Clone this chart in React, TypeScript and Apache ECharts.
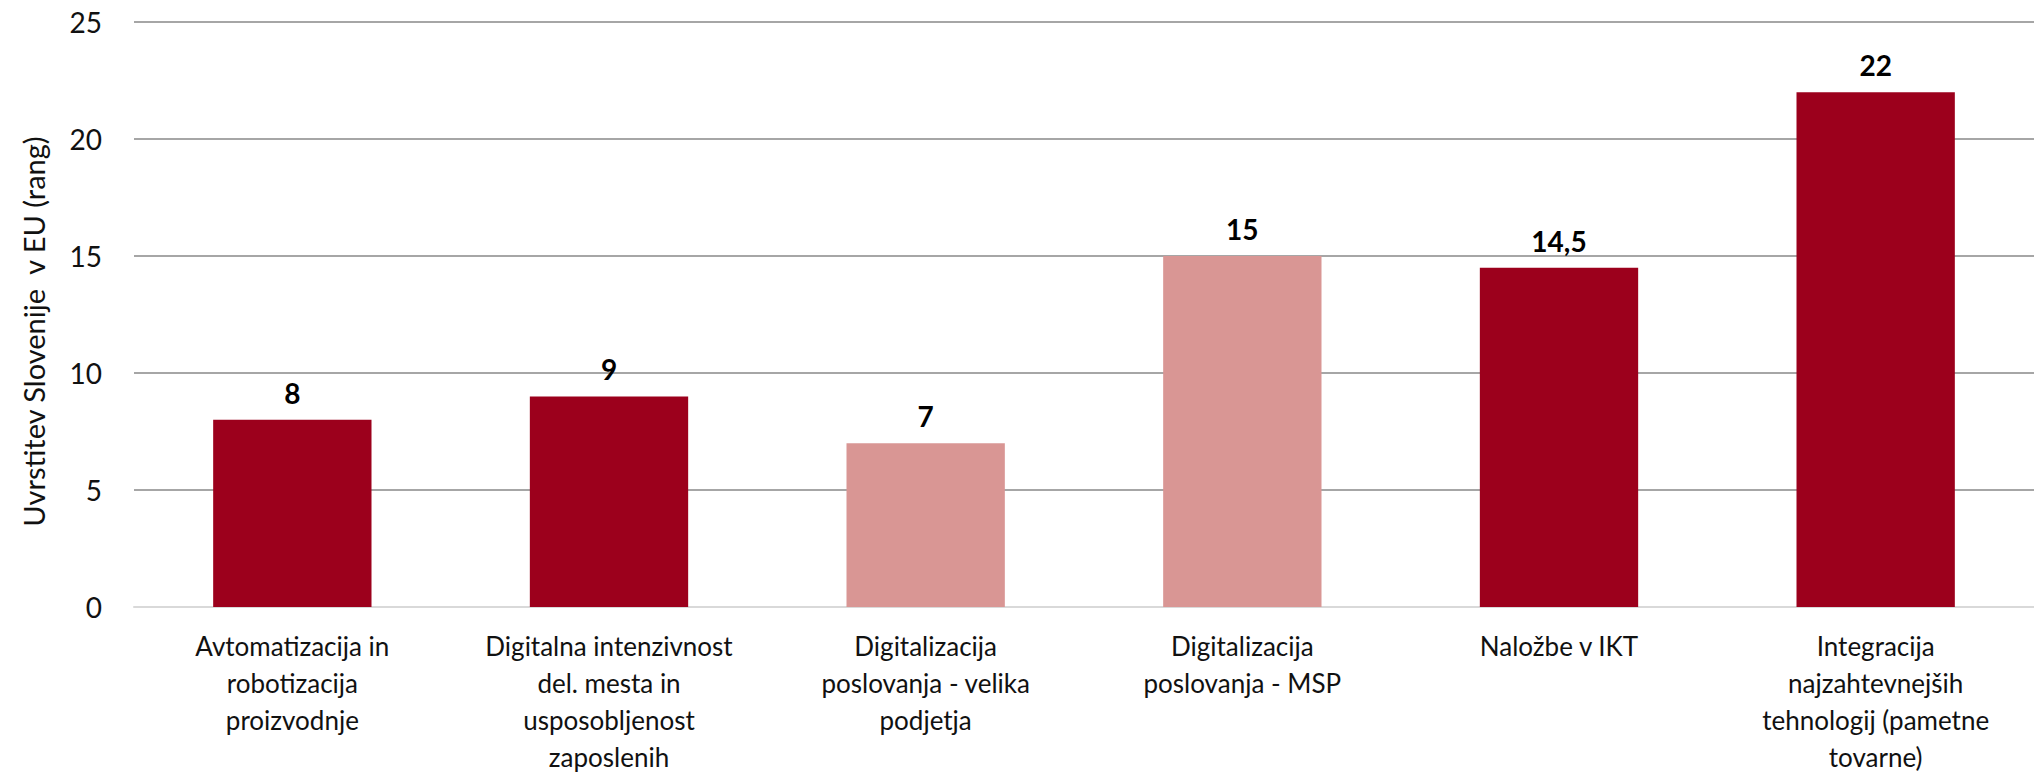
import React, { useEffect, useRef } from "react";
import * as echarts from "echarts";

const categories = [
  "Avtomatizacija in\nrobotizacija\nproizvodnje",
  "Digitalna intenzivnost\ndel. mesta in\nusposobljenost\nzaposlenih",
  "Digitalizacija\nposlovanja - velika\npodjetja",
  "Digitalizacija\nposlovanja - MSP",
  "Naložbe v IKT",
  "Integracija\nnajzahtevnejših\ntehnologij (pametne\ntovarne)",
];
const values = [8, 9, 7, 15, 14.5, 22];
const barColors = ["#9C001C", "#9C001C", "#D99694", "#D99694", "#9C001C", "#9C001C"];
const yAxisName = "Uvrstitev Slovenije  v EU (rang)";

const FONT = "Lato, 'Open Sans', sans-serif";

export default function App() {
  const ref = useRef<HTMLDivElement>(null);
  useEffect(() => {
    if (!ref.current) return;
    const chart = echarts.init(ref.current, null, { renderer: "svg" });
    chart.setOption({
      animation: false,
      backgroundColor: "#ffffff",
      grid: { left: 134, top: 22, width: 1907, height: 585, containLabel: false },
      xAxis: {
        type: "category",
        data: categories,
        axisTick: { show: false },
        axisLine: { lineStyle: { color: "#D9D9D9", width: 2 } },
        axisLabel: {
          interval: 0,
          margin: 20,
          fontFamily: FONT,
          fontSize: 26,
          lineHeight: 37,
          color: "#111",
          verticalAlign: "top",
        },
      },
      yAxis: {
        type: "value",
        min: 0,
        max: 25,
        interval: 5,
        name: yAxisName,
        nameLocation: "middle",
        nameGap: 86,
        nameTextStyle: {
          fontFamily: FONT,
          fontSize: 29,
          color: "#111",
          padding: [0, 34, 0, 0],
        },
        axisLine: { show: false },
        axisTick: { show: false },
        axisLabel: { margin: 32, fontFamily: FONT, fontSize: 28, color: "#111" },
        splitLine: { lineStyle: { color: "#A6A6A6", width: 2 } },
      },
      series: [
        {
          type: "bar",
          data: values.map((v, i) => ({ value: v, itemStyle: { color: barColors[i] } })),
          barCategoryGap: "50%",
          label: {
            show: true,
            position: "top",
            distance: 13,
            fontFamily: FONT,
            fontWeight: "bold",
            fontSize: 28,
            color: "#000",
            formatter: (p: any) => String(p.value).replace(".", ","),
          },
        },
      ],
    });
    return () => chart.dispose();
  }, []);
  return (
    <div
      ref={ref}
      style={{ position: "fixed", left: 0, top: 0, width: 2034, height: 779 }}
    />
  );
}
